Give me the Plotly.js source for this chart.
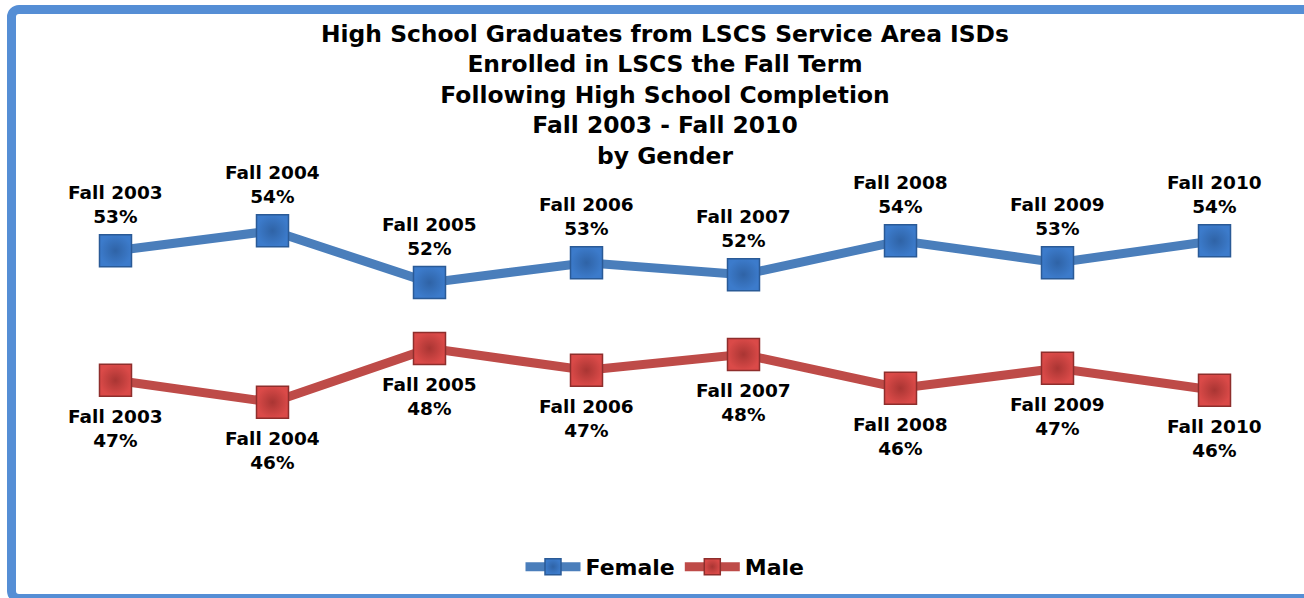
<!DOCTYPE html>
<html>
<head>
<meta charset="utf-8">
<script src="https://cdn.plot.ly/plotly-3.0.1.min.js"></script>
<style>
  html, body { margin: 0; padding: 0; width: 1304px; height: 598px; overflow: hidden; background: #fff; }
  #chart { position: absolute; left: 0; top: 0; width: 1304px; height: 598px; }
  #frame { position: absolute; left: 7px; top: 5px; width: 1320px; height: 580px;
           border: 9px solid #558ED5; border-radius: 12px; pointer-events: none; }
</style>
</head>
<body>
<div id="chart"></div>
<div id="frame"></div>
<script>
const categories = ['Fall 2003','Fall 2004','Fall 2005','Fall 2006','Fall 2007','Fall 2008','Fall 2009','Fall 2010'];
const femaleValues = [53.3, 54.3, 51.7, 52.7, 52.1, 53.8, 52.7, 53.8];
const maleValues   = [46.8, 45.7, 48.4, 47.3, 48.1, 46.4, 47.4, 46.3];
const femaleLabels = ['53%','54%','52%','53%','52%','54%','53%','54%'];
const maleLabels   = ['47%','46%','48%','47%','48%','46%','47%','46%'];

const labelFont = {family: 'DejaVu Sans', size: 18.5, color: '#000', weight: 'bold'};

const female = {
  type: 'scatter', mode: 'lines+markers', name: 'Female',
  x: categories, y: femaleValues,
  line: {color: '#4A7EBB', width: 9},
  marker: {symbol: 'square', size: 32, color: '#3C7BCB',
           gradient: {type: 'radial', color: '#2F63A6'},
           line: {color: '#2A5A96', width: 1.5}}
};
const male = {
  type: 'scatter', mode: 'lines+markers', name: 'Male',
  x: categories, y: maleValues,
  line: {color: '#BE4B48', width: 9},
  marker: {symbol: 'square', size: 32, color: '#DA4A48',
           gradient: {type: 'radial', color: '#A93533'},
           line: {color: '#8E2E2C', width: 1.5}}
};

const annotations = [];
categories.forEach((c, i) => {
  annotations.push({x: c, y: femaleValues[i], xref: 'x', yref: 'y',
    text: c + '<br>' + femaleLabels[i], showarrow: false,
    yanchor: 'bottom', yshift: 22, font: labelFont});
  annotations.push({x: c, y: maleValues[i], xref: 'x', yref: 'y',
    text: c + '<br>' + maleLabels[i], showarrow: false,
    yanchor: 'top', yshift: -24, font: labelFont});
});

const layout = {
  width: 1304, height: 598,
  margin: {l: 37, r: 11, t: 157, b: 121},
  paper_bgcolor: '#fff', plot_bgcolor: '#fff',
  showlegend: true,
  title: {
    text: 'High School Graduates from LSCS Service Area ISDs<br>Enrolled in LSCS the Fall Term<br>Following High School Completion<br>Fall 2003 - Fall 2010<br>by Gender',
    font: {family: 'DejaVu Sans', size: 23.4, color: '#000', weight: 'bold'},
    x: 0.5, xanchor: 'center', xref: 'paper',
    y: 1 - 42/598, yanchor: 'top', yref: 'container'
  },
  xaxis: {type: 'category', range: [-0.5, 7.5], visible: false, fixedrange: true},
  yaxis: {range: [42, 58], visible: false, fixedrange: true},
  annotations: annotations,
  legend: {
    orientation: 'h', x: 0.5, xanchor: 'center', y: -0.281, yanchor: 'middle',
    font: {family: 'DejaVu Sans', size: 22, color: '#000', weight: 'bold'},
    itemwidth: 55, bgcolor: 'rgba(0,0,0,0)'
  }
};

Plotly.newPlot('chart', [female, male], layout, {displayModeBar: false, staticPlot: true});
</script>
</body>
</html>
